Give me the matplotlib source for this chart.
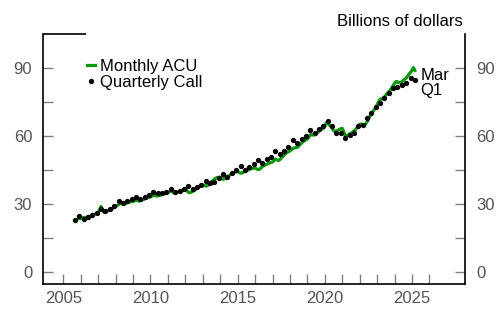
import numpy as np
import matplotlib
matplotlib.use("Agg")
import matplotlib.pyplot as plt

plt.rcParams['font.family'] = ['Liberation Sans', 'DejaVu Sans']

GREEN = '#0b960b'
TICK_GRAY = '#808080'
LABEL_GRAY = '#555555'

# Monthly ACU, Sep 2005 .. Mar 2025 (billions of dollars)
acu_2005 = [22.8, 23.2, 23.5, 23.8]
acu_2006 = [23.6, 23.9, 24.2, 24.0, 24.3, 24.6, 24.5, 24.9, 25.2, 25.4, 25.7, 25.9]
acu_2007 = [26.3, 27.8, 29.0, 27.2, 26.4, 26.6, 26.9, 27.2, 27.5, 27.8, 28.2, 28.6]
acu_2008 = [29.0, 29.4, 29.8, 30.3, 30.4, 30.2, 30.1, 30.4, 30.6, 30.8, 31.0, 31.1]
acu_2009 = [31.2, 31.5, 31.9, 31.7, 31.4, 31.5, 31.7, 32.0, 32.3, 32.6, 32.8, 33.1]
acu_2010 = [33.2, 33.6, 34.1, 33.9, 33.6, 33.7, 33.8, 34.0, 34.3, 34.5, 34.7, 34.9]
acu_2011 = [35.0, 35.5, 36.0, 35.6, 35.0, 34.9, 35.1, 35.4, 35.6, 35.9, 36.1, 36.3]
acu_2012 = [36.3, 36.0, 35.3, 35.1, 35.3, 35.6, 36.0, 36.5, 37.0, 37.5, 38.0, 38.4]
acu_2013 = [38.5, 38.3, 38.0, 38.1, 38.6, 39.3, 40.0, 40.5, 41.0, 41.5, 41.8, 41.9]
acu_2014 = [41.9, 41.5, 41.0, 41.2, 41.6, 42.2, 42.6, 43.0, 43.4, 43.8, 44.1, 44.4]
acu_2015 = [44.4, 44.0, 43.7, 43.8, 44.1, 44.4, 44.7, 45.0, 45.3, 45.6, 45.8, 45.9]
acu_2016 = [45.9, 45.6, 45.3, 45.4, 45.9, 46.6, 47.0, 47.3, 47.6, 47.9, 48.2, 48.4]
acu_2017 = [48.6, 49.2, 49.9, 49.6, 49.3, 49.6, 50.3, 51.0, 51.7, 52.3, 52.8, 53.2]
acu_2018 = [53.5, 54.0, 54.7, 54.8, 55.0, 55.1, 55.6, 56.3, 57.0, 57.6, 58.0, 58.4]
acu_2019 = [58.8, 59.6, 60.6, 60.7, 60.5, 60.6, 61.0, 61.6, 62.2, 62.7, 63.1, 63.5]
acu_2020 = [64.3, 66.0, 65.8, 65.0, 64.4, 63.6, 62.5, 62.1, 62.3, 62.6, 63.0, 63.3]
acu_2021 = [63.5, 62.0, 60.3, 59.9, 60.5, 61.0, 61.3, 61.8, 62.3, 62.8, 63.6, 64.5]
acu_2022 = [65.2, 65.4, 65.1, 65.0, 65.3, 66.2, 67.5, 68.8, 69.8, 70.8, 71.7, 72.4]
acu_2023 = [73.8, 75.2, 76.3, 76.5, 76.6, 77.3, 78.1, 78.9, 79.6, 80.3, 81.2, 82.3]
acu_2024 = [83.3, 84.1, 84.0, 83.7, 83.6, 84.0, 84.6, 85.2, 85.6, 86.5, 87.4, 88.2]
acu_2025 = [89.0, 90.3, 89.0]

monthly_acu = (acu_2005 + acu_2006 + acu_2007 + acu_2008 + acu_2009 + acu_2010
               + acu_2011 + acu_2012 + acu_2013 + acu_2014 + acu_2015 + acu_2016
               + acu_2017 + acu_2018 + acu_2019 + acu_2020 + acu_2021 + acu_2022
               + acu_2023 + acu_2024 + acu_2025)

# Quarterly Call, 2005Q3 .. 2025Q1 (plotted at quarter-end month)
quarterly_call = [
    23.1, 24.6,
    23.4, 24.3, 25.3, 26.0,
    27.8, 26.8, 27.8, 29.0,
    31.2, 30.7, 31.2, 32.2,
    33.4, 32.2, 33.1, 34.1,
    35.4, 34.9, 35.1, 35.6,
    36.6, 35.3, 36.0, 36.6,
    38.2, 36.8, 37.8, 38.5,
    40.3, 39.3, 40.0, 41.5,
    43.4, 42.2, 43.7, 45.1,
    46.9, 45.1, 46.6, 47.8,
    49.6, 48.4, 49.9, 51.0,
    53.5, 52.2, 53.7, 55.4,
    58.4, 57.2, 58.7, 59.9,
    62.8, 61.6, 63.1, 64.6,
    66.9, 64.6, 61.3, 61.3,
    59.1, 60.6, 61.6, 64.6,
    64.9, 67.9, 70.4, 73.1,
    74.6, 76.8, 79.0, 81.2,
    81.6, 82.6, 83.7, 85.6,
    84.6,
]

year_ticks = list(range(2005, 2027))
year_labels = [2005, 2010, 2015, 2020, 2025]
y_major = [0, 30, 60, 90]
y_minor = [15, 45, 75]

start = 2005 + 8 / 12  # Sep 2005
x_month = start + np.arange(len(monthly_acu)) / 12
x_quarter = start + np.arange(len(quarterly_call)) * 0.25

fig = plt.figure(figsize=(5.04, 3.22), dpi=100)
ax = fig.add_axes([43.3 / 504, 1 - 284 / 322, 422 / 504, 250 / 322])

ax.plot(x_month, monthly_acu, color=GREEN, lw=2.3, solid_joinstyle='round',
        label='Monthly ACU', zorder=2)
ax.plot(x_quarter, quarterly_call, 'o', color='black', ms=3.8, mew=0,
        label='Quarterly Call', zorder=3)

ax.set_xlim(2003.85, 2028.06)
ax.set_ylim(-5.2, 105.1)

ax.set_xticks(year_ticks)
ax.set_xticklabels([str(y) if y in year_labels else '' for y in year_ticks])
ax.set_yticks(y_major)
ax.set_yticks(y_minor, minor=True)

ax.tick_params(axis='x', which='both', direction='in', length=7.5, width=1,
               color=TICK_GRAY, labelcolor=LABEL_GRAY, labelsize=12, pad=5)
ax.tick_params(axis='y', which='both', direction='in', length=7.5, width=1,
               color=TICK_GRAY, labelcolor=LABEL_GRAY, labelsize=12, pad=8,
               left=True, right=True, labelleft=True, labelright=True)

for side in ['left', 'right', 'bottom']:
    ax.spines[side].set_linewidth(1.2)
ax.spines['top'].set_visible(False)
ax.plot([0, (86 - 43.3) / 422], [1, 1], color='black', lw=1.2,
        transform=ax.transAxes, clip_on=False, solid_capstyle='butt')

leg = ax.legend(loc='upper left', bbox_to_anchor=(0.104, 0.90), frameon=False,
                fontsize=12, handlelength=0.45, handletextpad=0.3,
                labelspacing=0.05, borderpad=0, borderaxespad=0)

ax.text(2025.47, 87.0, 'Mar', fontsize=12, va='center', ha='left')
ax.text(2025.47, 80.1, 'Q1', fontsize=12, va='center', ha='left')

fig.text(463 / 504, 1 - 21.7 / 322, 'Billions of dollars', fontsize=12,
         ha='right', va='center')

fig.savefig('out.png', dpi=100)
